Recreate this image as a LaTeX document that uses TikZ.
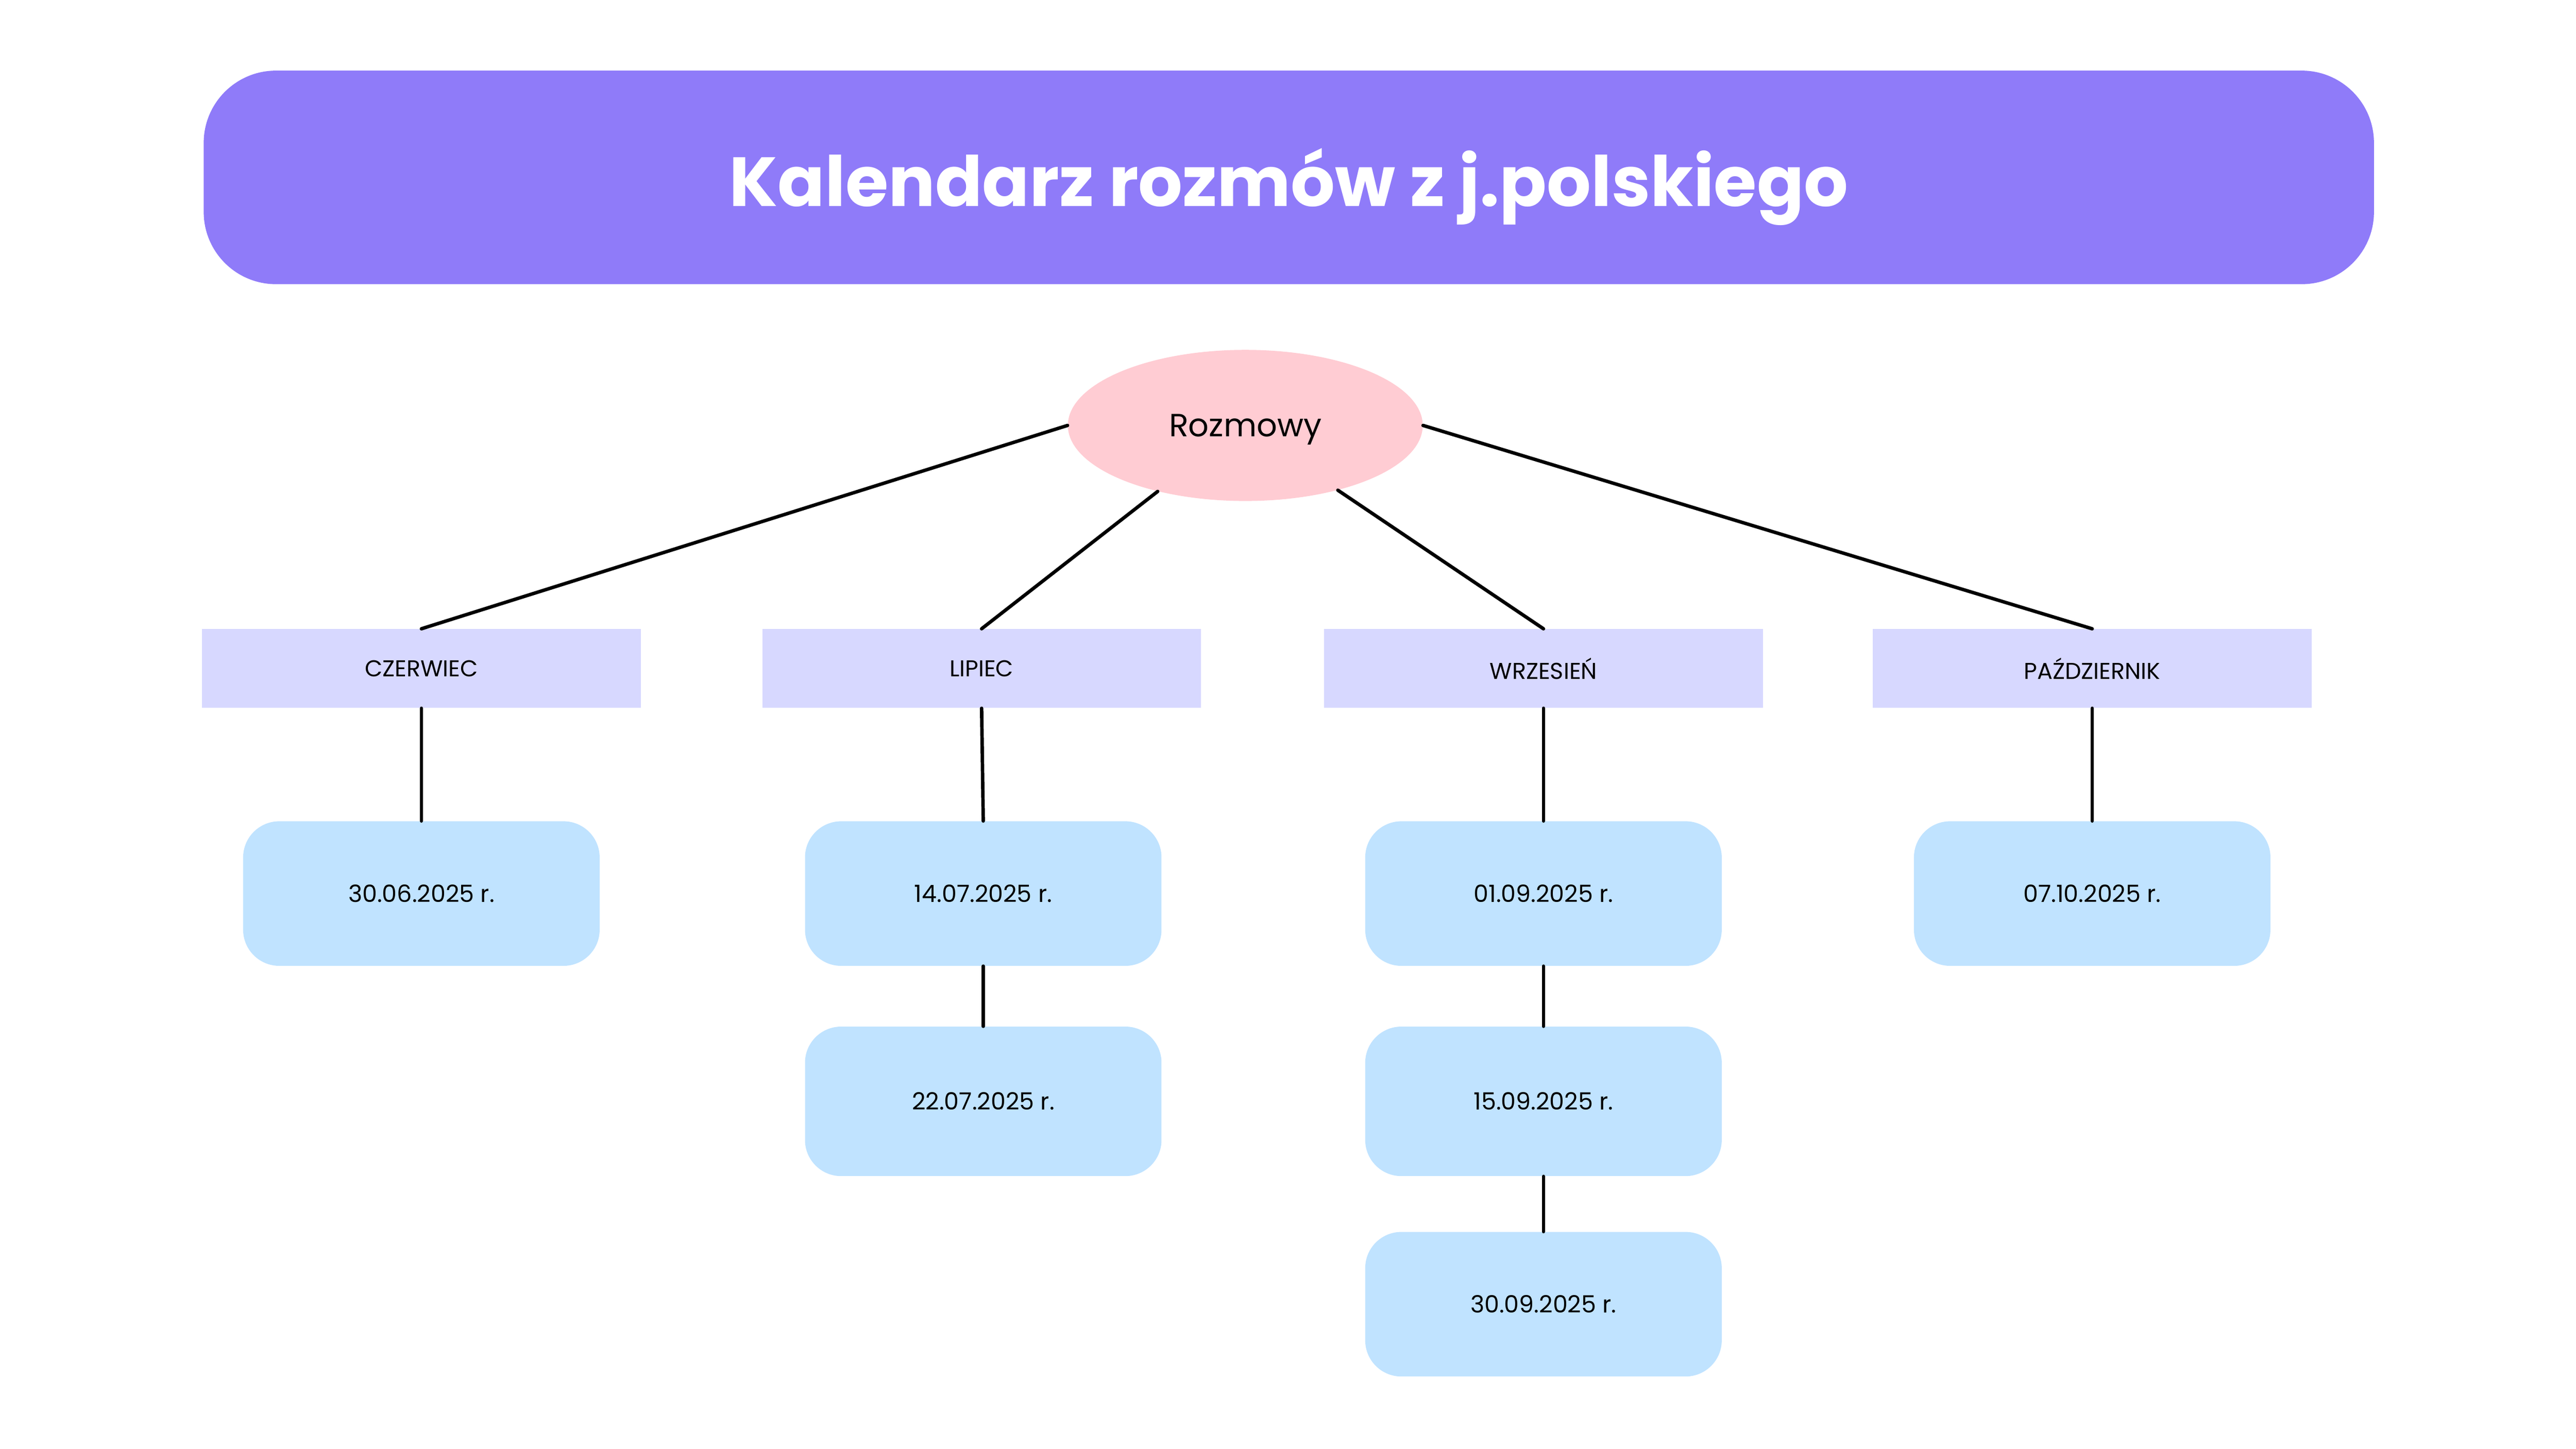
\documentclass[tikz,border=0pt]{standalone}
\usepackage{fontspec}
\setmainfont{Poppins}
\usetikzlibrary{shapes.geometric}
\definecolor{titlebg}{HTML}{8F7BF9}
\definecolor{rootbg}{HTML}{FFCCD3}
\definecolor{monthbg}{HTML}{D7D8FF}
\definecolor{datebg}{HTML}{C0E3FF}
\tikzset{
  titlebox/.style={fill=titlebg, rounded corners=44bp, minimum width=1321bp, minimum height=130bp, inner sep=0pt, text=white, text depth=0pt, font=\fontsize{42.5}{46}\selectfont\bfseries},
  rootnode/.style={ellipse, fill=rootbg, minimum width=216bp, minimum height=92bp, inner sep=0pt, text depth=0pt, font=\fontsize{19.6}{23}\selectfont},
  monthbox/.style={fill=monthbg, minimum width=267bp, minimum height=48bp, inner sep=0pt, font=\fontsize{14}{16}\selectfont},
  datebox/.style={fill=datebg, rounded corners=22bp, minimum width=217bp, minimum height=88bp, inner sep=0pt, font=\fontsize{14.5}{17}\selectfont},
  conn/.style={draw=black, line width=2.1bp, line cap=round}
}
\begin{document}
\begin{tikzpicture}[x=1bp,y=-1bp]
\useasboundingbox[fill=white] (0,0) rectangle (1568,882);
\node[titlebox] (title) at (784.5,108) {Kalendarz rozmów z j.polskiego};
\node[rootnode] (root) at (758,259) {Rozmowy};
\node[monthbox] (m1) at (256.5,407) {CZERWIEC};
\node[monthbox] (m2) at (597.5,407) {LIPIEC};
\node[monthbox] (m3) at (939.5,407) {WRZESIEŃ};
\node[monthbox] (m4) at (1273.5,407) {PAŹDZIERNIK};
\node[datebox] (d1) at (256.5,544) {30.06.2025 r.};
\node[datebox] (d2) at (598.5,544) {14.07.2025 r.};
\node[datebox, minimum height=91bp] (d3) at (598.5,670.5) {22.07.2025 r.};
\node[datebox] (d4) at (939.5,544) {01.09.2025 r.};
\node[datebox, minimum height=91bp] (d5) at (939.5,670.5) {15.09.2025 r.};
\node[datebox] (d6) at (939.5,794) {30.09.2025 r.};
\node[datebox] (d7) at (1273.5,544) {07.10.2025 r.};
\draw[conn] (root.west) -- (m1.north);
\draw[conn] (root.217.7) -- (m2.north);
\draw[conn] (root.325.4) -- (m3.north);
\draw[conn] (root.east) -- (m4.north);
\draw[conn] (m1.south) -- (d1.north);
\draw[conn] (m2.south) -- (d2.north);
\draw[conn] (m3.south) -- (d4.north);
\draw[conn] (m4.south) -- (d7.north);
\draw[conn] (d2.south) -- (d3.north);
\draw[conn] (d4.south) -- (d5.north);
\draw[conn] (d5.south) -- (d6.north);
\end{tikzpicture}
\end{document}
